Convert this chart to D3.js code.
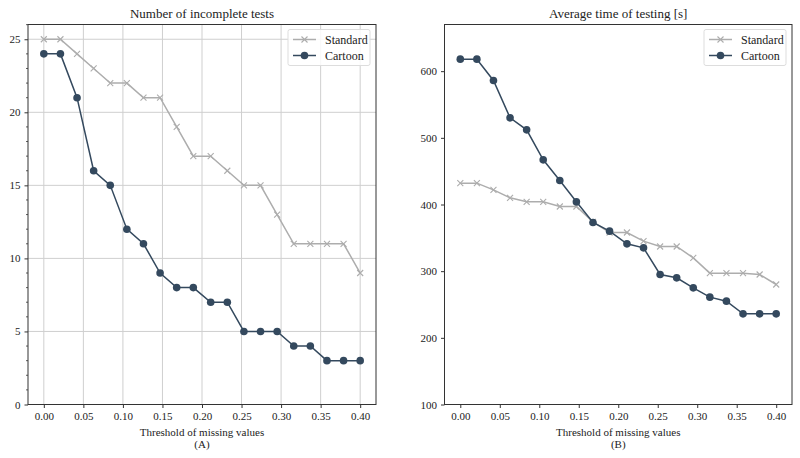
<!DOCTYPE html>
<html>
<head>
<meta charset="utf-8">
<script src="https://cdn.jsdelivr.net/npm/d3@7"></script>
<style>
  body { margin: 0; background: #fff; }
  svg text { font-family: "Liberation Serif", Tinos, "Times New Roman", Times, "DejaVu Serif", serif; fill: #222; }
</style>
</head>
<body>
<svg id="chart" width="800" height="458"></svg>
<script>
// threshold of missing values (20 steps, 0 .. 0.4)
var thresholds = [0.0, 0.021, 0.042, 0.063, 0.084, 0.105, 0.126, 0.147, 0.168, 0.189,
                  0.211, 0.232, 0.253, 0.274, 0.295, 0.316, 0.337, 0.358, 0.379, 0.4];

// (A) number of incomplete tests
var incompleteStandard = [25, 25, 24, 23, 22, 22, 21, 21, 19, 17, 17, 16, 15, 15, 13, 11, 11, 11, 11, 9];
var incompleteCartoon  = [24, 24, 21, 16, 15, 12, 11, 9, 8, 8, 7, 7, 5, 5, 5, 4, 4, 3, 3, 3];

// (B) average time of testing [s]
var timeStandard = [432, 432, 422, 410, 404, 404, 397, 397, 374, 358, 358, 345, 337, 337, 320, 297, 297, 297, 295, 280];
var timeCartoon  = [618, 618, 586, 530, 512, 467, 436, 404, 373, 360, 341, 335, 295, 290, 275, 261, 255, 236, 236, 236];

var xTicks = [0, 0.05, 0.1, 0.15, 0.2, 0.25, 0.3, 0.35, 0.4];
var seriesNames = ["Standard", "Cartoon"];

var colStandard = "#adadad",
    colCartoon = "#34495e";

var serif = "'Liberation Serif', Tinos, 'Times New Roman', Times, 'DejaVu Serif', serif";

var svg = d3.select("#chart");

function drawPanel(opts) {
  var g = svg.append("g");

  var x = d3.scaleLinear().domain([-0.02, 0.42]).range([opts.left, opts.right]);
  var y = d3.scaleLinear().domain(opts.yDomain).range([opts.bottom, opts.top]);

  // grid
  if (opts.grid) {
    g.append("g").selectAll("line.vg")
      .data(xTicks).enter().append("line")
      .attr("x1", function (d) { return x(d); }).attr("x2", function (d) { return x(d); })
      .attr("y1", opts.top).attr("y2", opts.bottom)
      .attr("stroke", "#cfcfcf").attr("stroke-width", 1);
    g.append("g").selectAll("line.hg")
      .data(opts.yTicks).enter().append("line")
      .attr("x1", opts.left).attr("x2", opts.right)
      .attr("y1", function (d) { return y(d); }).attr("y2", function (d) { return y(d); })
      .attr("stroke", "#cfcfcf").attr("stroke-width", 1);
  }

  // axes
  var xAxis = d3.axisBottom(x).tickValues(xTicks).tickFormat(d3.format(".2f")).tickSizeOuter(0).tickSize(3.5).tickPadding(4);
  var gx = g.append("g").attr("transform", "translate(0," + opts.bottom + ")").call(xAxis);
  var yAxis = d3.axisLeft(y).tickValues(opts.yTicks).tickFormat(d3.format("d")).tickSizeOuter(0).tickSize(3.5).tickPadding(4);
  var gy = g.append("g").attr("transform", "translate(" + opts.left + ",0)").call(yAxis);

  [gx, gy].forEach(function (a) {
    a.attr("font-family", serif).attr("font-size", 11);
    a.select(".domain").remove();
    a.selectAll(".tick line").attr("stroke", "#333");
    a.selectAll(".tick text").attr("fill", "#222");
  });

  if (opts.minor) {
    g.append("g").selectAll("line.minor")
      .data(opts.minor).enter().append("line")
      .attr("x1", opts.left - 2).attr("x2", opts.left)
      .attr("y1", function (d) { return y(d); }).attr("y2", function (d) { return y(d); })
      .attr("stroke", "#333").attr("stroke-width", 0.8);
  }

  // frame
  g.append("rect")
    .attr("x", opts.left).attr("y", opts.top)
    .attr("width", opts.right - opts.left).attr("height", opts.bottom - opts.top)
    .attr("fill", "none").attr("stroke", "#333").attr("stroke-width", 1);

  var line = d3.line()
    .x(function (d, i) { return x(thresholds[i]); })
    .y(function (d) { return y(d); });

  // standard series
  g.append("path").datum(opts.standard)
    .attr("d", line).attr("fill", "none")
    .attr("stroke", colStandard).attr("stroke-width", 1.5);
  g.append("g").selectAll("path.xm")
    .data(opts.standard).enter().append("path")
    .attr("d", "M-3,-3L3,3M-3,3L3,-3")
    .attr("transform", function (d, i) { return "translate(" + x(thresholds[i]) + "," + y(d) + ")"; })
    .attr("stroke", colStandard).attr("stroke-width", 1.1).attr("fill", "none");

  // cartoon series
  g.append("path").datum(opts.cartoon)
    .attr("d", line).attr("fill", "none")
    .attr("stroke", colCartoon).attr("stroke-width", 1.5);
  g.append("g").selectAll("circle")
    .data(opts.cartoon).enter().append("circle")
    .attr("cx", function (d, i) { return x(thresholds[i]); })
    .attr("cy", function (d) { return y(d); })
    .attr("r", 3.8)
    .attr("fill", colCartoon);

  // title & labels
  var cx = (opts.left + opts.right) / 2;
  g.append("text").attr("x", cx).attr("y", 17.5).attr("text-anchor", "middle")
    .attr("font-family", serif).attr("font-size", 13).text(opts.title);
  g.append("text").attr("x", cx).attr("y", 436).attr("text-anchor", "middle")
    .attr("font-family", serif).attr("font-size", 11).text("Threshold of missing values");
  g.append("text").attr("x", cx).attr("y", 448).attr("text-anchor", "middle")
    .attr("font-family", serif).attr("font-size", 11).text(opts.sub);

  // legend
  var lx = opts.right - 88, ly = opts.top + 5;
  g.append("rect").attr("x", lx).attr("y", ly).attr("width", 82).attr("height", 36)
    .attr("rx", 2).attr("fill", "#fff").attr("fill-opacity", 0.85)
    .attr("stroke", "#ddd").attr("stroke-width", 1);
  seriesNames.forEach(function (name, i) {
    var yy = ly + 10 + i * 16;
    var c = i === 0 ? colStandard : colCartoon;
    g.append("line").attr("x1", lx + 5).attr("x2", lx + 28).attr("y1", yy).attr("y2", yy)
      .attr("stroke", c).attr("stroke-width", 1.5);
    if (i === 0) {
      g.append("path").attr("d", "M-3,-3L3,3M-3,3L3,-3")
        .attr("transform", "translate(" + (lx + 16.5) + "," + yy + ")")
        .attr("stroke", c).attr("stroke-width", 1.1);
    } else {
      g.append("circle").attr("cx", lx + 16.5).attr("cy", yy).attr("r", 3.8).attr("fill", c);
    }
    g.append("text").attr("x", lx + 37).attr("y", yy + 4)
      .attr("font-family", serif).attr("font-size", 12).text(name);
  });
}

drawPanel({
  left: 28, right: 376, top: 24.5, bottom: 404.5,
  yDomain: [0, 26.01],
  yTicks: [0, 5, 10, 15, 20, 25],
  minor: d3.range(0, 27).filter(function (d) { return d % 5 !== 0; }),
  grid: true,
  standard: incompleteStandard, cartoon: incompleteCartoon,
  title: "Number of incomplete tests", sub: "(A)"
});

drawPanel({
  left: 444.5, right: 792, top: 24.5, bottom: 404.5,
  yDomain: [100, 670],
  yTicks: [100, 200, 300, 400, 500, 600],
  minor: null,
  grid: false,
  standard: timeStandard, cartoon: timeCartoon,
  title: "Average time of testing [s]", sub: "(B)"
});
</script>
</body>
</html>
